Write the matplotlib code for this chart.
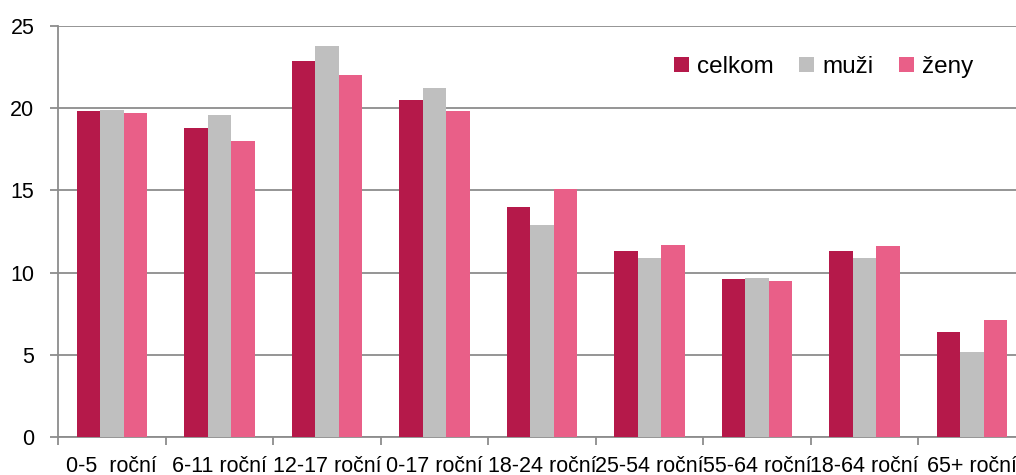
import numpy as np
import matplotlib
matplotlib.use('Agg')
import matplotlib.pyplot as plt

categories = ['0-5  roční', '6-11 roční', '12-17 roční', '0-17 roční', '18-24 roční',
              '25-54 roční', '55-64 roční', '18-64 roční', '65+ roční']
celkom = [19.8, 18.8, 22.9, 20.5, 14.0, 11.3, 9.6, 11.3, 6.4]
muzi = [19.9, 19.6, 23.8, 21.2, 12.9, 10.9, 9.7, 10.9, 5.2]
zeny = [19.7, 18.0, 22.0, 19.8, 15.1, 11.7, 9.5, 11.6, 7.1]
series_names = ['celkom', 'muži', 'ženy']
colors = ['#B5194A', '#BFBFBF', '#E95F88']

plt.rcParams['font.family'] = ['Liberation Sans', 'DejaVu Sans']
grid_color = '#8C8C8C'

fig = plt.figure(figsize=(10.16, 4.75), dpi=100)
ax = fig.add_axes([58 / 1016, 38 / 475, 968 / 1016, 411 / 475])

x = np.arange(len(categories))
w = 0.218
for i, (vals, name) in enumerate(zip([celkom, muzi, zeny], series_names)):
    ax.bar(x + (i - 1) * w, vals, width=w, color=colors[i], label=name, zorder=3)

ax.set_xlim(-0.5, len(categories) - 0.5)
ax.set_ylim(0, 25)
ax.set_yticks([0, 5, 10, 15, 20, 25])
ax.yaxis.grid(True, color=grid_color, linewidth=1.3, zorder=0)
ax.tick_params(axis='y', length=6, width=1.3, color=grid_color, pad=11,
               labelsize=15.5)

ax.set_xticks(x)
ax.set_xticklabels(categories)
ax.set_xticks(np.arange(-0.5, len(categories), 1.0), minor=True)
ax.tick_params(axis='x', which='major', length=0, pad=14, labelsize=15.5)
ax.tick_params(axis='x', which='minor', length=6, width=1.3, color=grid_color)

for s in ['top', 'right']:
    ax.spines[s].set_visible(False)
for s in ['left', 'bottom']:
    ax.spines[s].set_color(grid_color)
    ax.spines[s].set_linewidth(1.3)

ax.legend(loc='center left', bbox_to_anchor=(674 / 1016, 1 - 67 / 475),
          bbox_transform=fig.transFigure, ncol=3, frameon=False,
          fontsize=17.5, handlelength=0.62, handleheight=0.62,
          handletextpad=0.33, columnspacing=1.05, borderpad=0, borderaxespad=0)

fig.savefig('out.png', dpi=100)
